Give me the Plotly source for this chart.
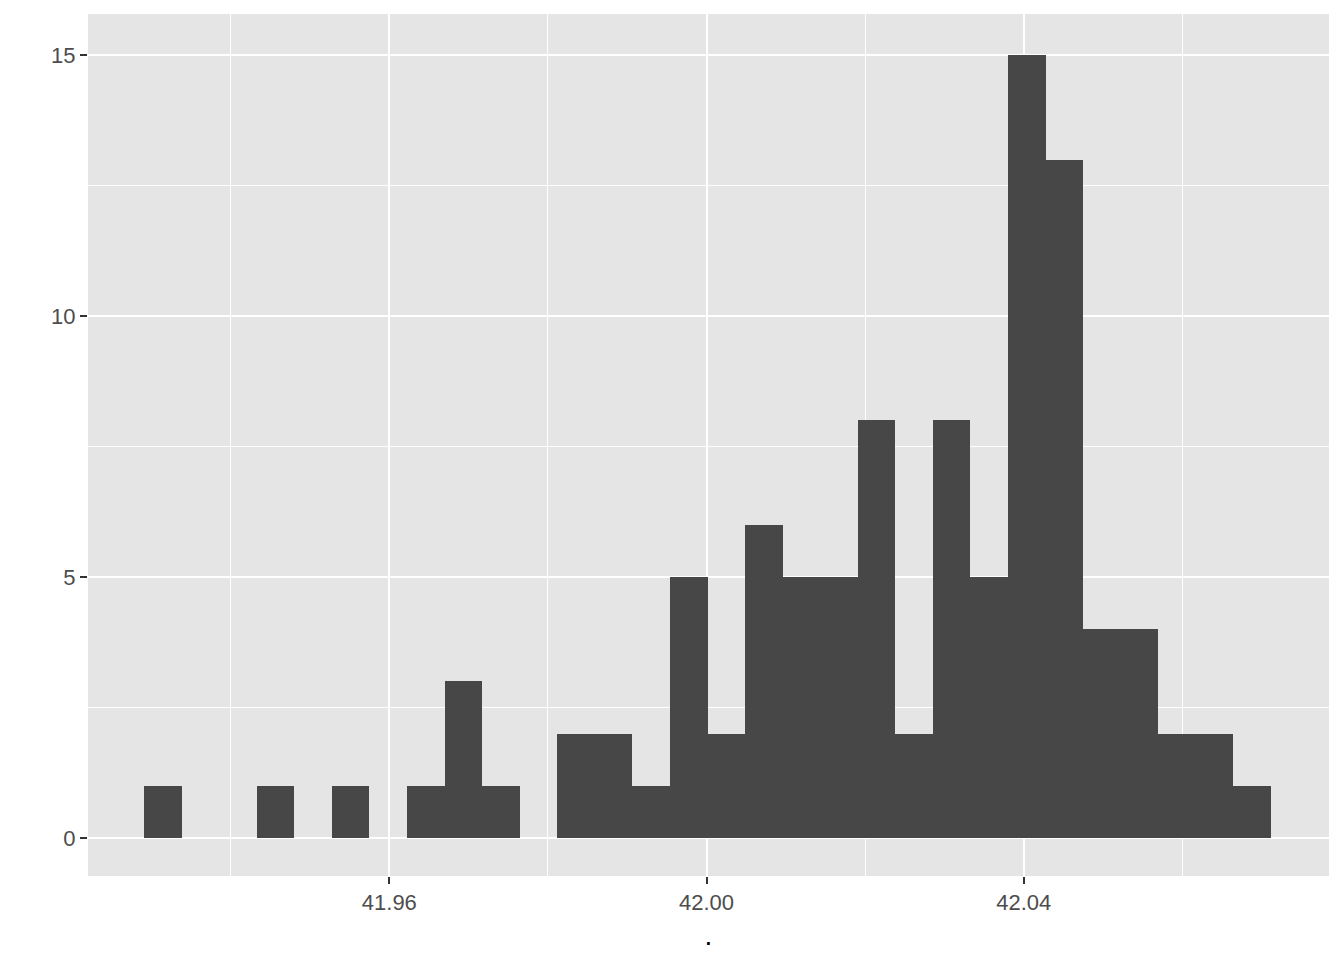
import plotly.graph_objects as go

# histogram bins (30 bins, ggplot2 default)
bin_centers = [41.93144, 41.93618, 41.94091, 41.94565, 41.95039, 41.95512,
               41.95986, 41.96460, 41.96934, 41.97407, 41.97881, 41.98355,
               41.98828, 41.99302, 41.99776, 42.00249, 42.00723, 42.01197,
               42.01671, 42.02144, 42.02618, 42.03092, 42.03565, 42.04039,
               42.04513, 42.04986, 42.05460, 42.05934, 42.06408, 42.06881]
counts = [1, 0, 0, 1, 0, 1, 0, 1, 3, 1, 0, 2, 2, 1, 5,
          2, 6, 5, 5, 8, 2, 8, 5, 15, 13, 4, 4, 2, 2, 1]
bin_width = 0.004737

x_ticks = [41.96, 42.00, 42.04]
x_labels = ['41.96', '42.00', '42.04']
y_ticks = [0, 5, 10, 15]

fig = go.Figure()
fig.add_bar(x=bin_centers, y=counts, width=bin_width,
            marker_color='#474747', marker_line_width=0, showlegend=False)

font = dict(family='Liberation Sans, Arial, sans-serif', size=22, color='#4D4D4D')

# page body has an 8px margin, so the figure is a bit smaller than the window
fig.update_layout(
    width=1328, height=944,
    margin=dict(l=80, r=7, t=6, b=76),
    plot_bgcolor='#E5E5E5',
    paper_bgcolor='white',
    bargap=0,
    font=font,
)
fig.update_xaxes(
    range=[41.9220, 42.0785],
    tickvals=x_ticks, ticktext=x_labels,
    showgrid=True, gridcolor='white', gridwidth=2,
    minor=dict(tickvals=[41.94, 41.98, 42.02, 42.06], showgrid=True,
               gridcolor='white', gridwidth=1, ticks=''),
    ticks='outside', ticklen=7, tickwidth=2, tickcolor='#333333',
    tickfont=font, zeroline=False, showline=False,
    title=dict(text='.', font=dict(family='Liberation Sans, Arial, sans-serif',
                                   size=28, color='black'), standoff=10),
)
fig.update_yaxes(
    range=[-0.73, 15.79],
    tickvals=y_ticks,
    showgrid=True, gridcolor='white', gridwidth=2,
    minor=dict(tickvals=[2.5, 7.5, 12.5], showgrid=True,
               gridcolor='white', gridwidth=1, ticks=''),
    ticks='outside', ticklen=7, tickwidth=2, tickcolor='#333333',
    tickfont=font, zeroline=False, showline=False,
)

fig.write_html("out.html")
